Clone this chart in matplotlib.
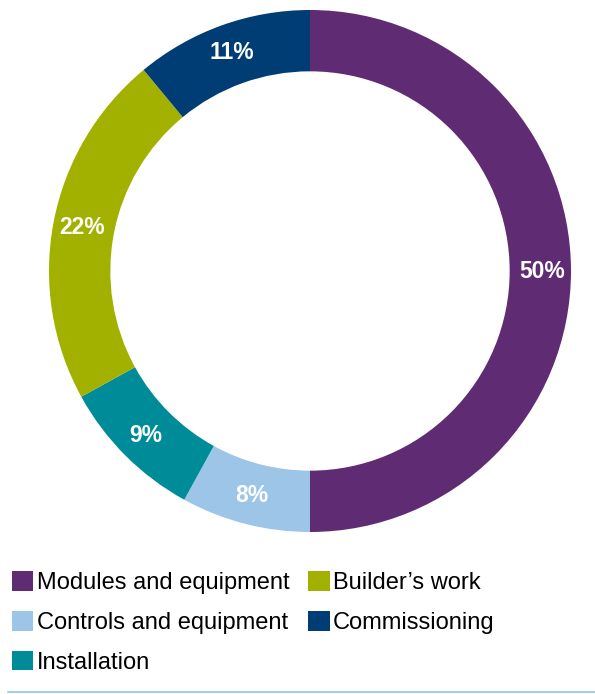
import matplotlib.pyplot as plt
from matplotlib.patches import Patch
from matplotlib.lines import Line2D

labels = ["Modules and equipment", "Controls and equipment", "Installation",
          "Builder\u2019s work", "Commissioning"]
shares = [50, 8, 9, 22, 11]
colors = ["#5F2B73", "#9CC5E7", "#008B99", "#A2B100", "#003D74"]

plt.rcParams['font.family'] = ['Liberation Sans', 'DejaVu Sans']

W, H = 595, 694
fig = plt.figure(figsize=(W / 100, H / 100), dpi=100)

# donut: centre (310, 271) px, outer radius 261 px
cx, cy, R = 310, 271, 261
ax = fig.add_axes([(cx - R) / W, (H - cy - R) / H, 2 * R / W, 2 * R / H])
wedges, _, pcts = ax.pie(
    shares, colors=colors, startangle=90, counterclock=False,
    radius=1, wedgeprops=dict(width=0.235, edgecolor='none'),
    autopct=lambda p: f"{p:.0f}%", pctdistance=0.89,
    textprops=dict(color='white', fontsize=16.5, fontweight='bold'))
ax.set_xlim(-1, 1)
ax.set_ylim(-1, 1)
ax.set_aspect('equal')
ax.axis('off')

handles = [Patch(facecolor=c, edgecolor='none') for c in colors]
fig.legend(handles, labels, loc='upper left', bbox_to_anchor=(12 / W, 1 - 571 / H),
           ncol=2, frameon=False, fontsize=17, handlelength=0.9, handleheight=0.9,
           handletextpad=0.15, columnspacing=0.8, labelspacing=0.72, borderpad=0,
           borderaxespad=0)

fig.add_artist(Line2D([8 / W, 1], [1 - 692 / H, 1 - 692 / H], color="#8CC8EC", lw=1.2))

fig.savefig("out.png", dpi=100)
